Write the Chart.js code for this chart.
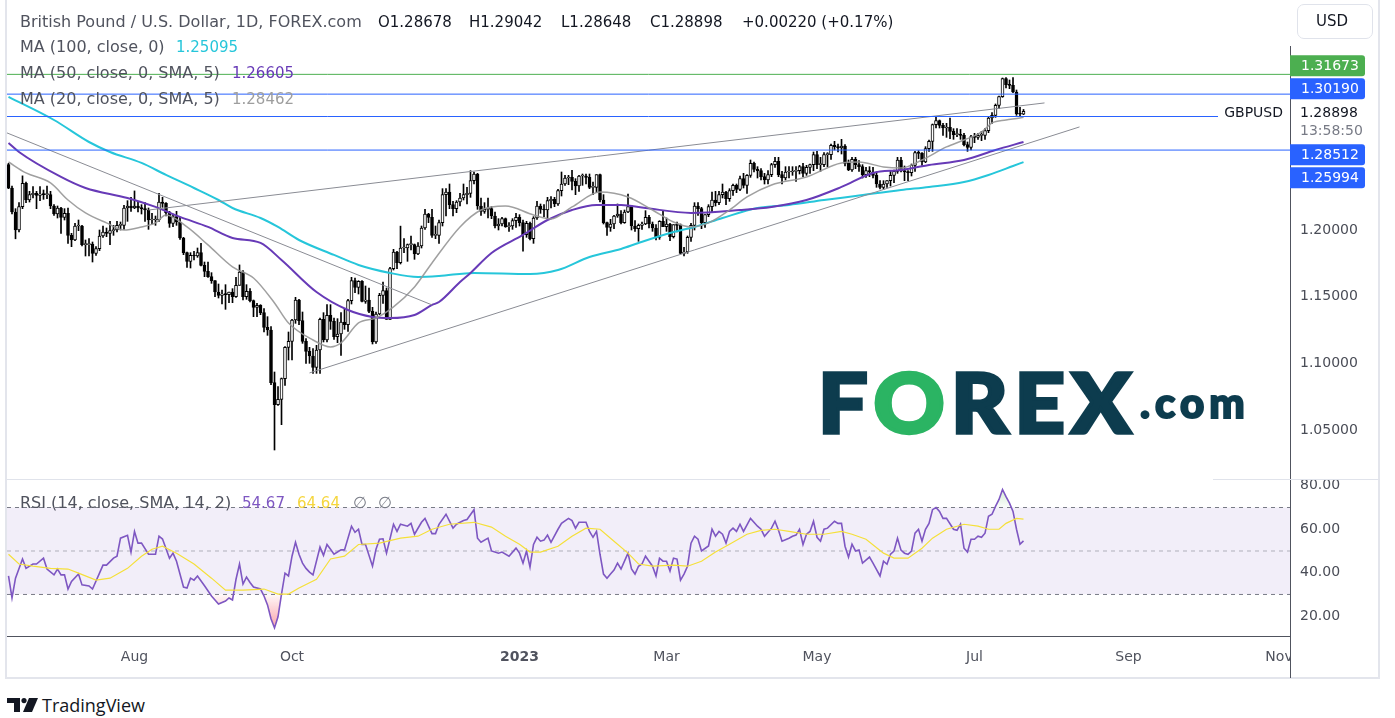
<!DOCTYPE html>
<html>
<head>
<meta charset="utf-8">
<script src="https://cdn.jsdelivr.net/npm/chart.js@4.4.0/dist/chart.umd.min.js"></script>
<style>
  body { margin:0; width:1395px; height:718px; background:#fff; position:relative; overflow:hidden; font-family:'DejaVu Sans', sans-serif; }
  .abs { position:absolute; white-space:nowrap; }
  .lg { font-size:16px; line-height:20px; color:#50535e; }
  .num { font-size:15px; }
  .val { color:#131722; }
  #frame { position:absolute; left:5px; top:-2px; width:1371px; height:677px; border:2px solid #e3e5ec; }
  #pricebox { position:absolute; left:0; top:0; width:1380px; height:479px; }
  #rsibox { position:absolute; left:0; top:480px; width:1380px; height:198px; }
  .logo { font-family:Lato, sans-serif; font-weight:900; color:#0d3c4e; -webkit-text-stroke:3.5px #0d3c4e; }
</style>
</head>
<body>
<div id="frame"></div>
<div class="abs" style="left:1290px;top:46px;width:1px;height:632px;background:#50535e"></div>
<div id="pricebox"><canvas id="price"></canvas></div>
<div id="rsibox"><canvas id="rsi"></canvas></div>
<div class="abs" style="left:7px;top:479px;width:1373px;height:1px;background:#e0e3eb"></div>
<div class="abs" style="left:830px;top:476px;width:383px;height:6px;background:#fff"></div>
<div class="abs" style="left:1291px;top:637px;width:87px;height:40px;background:#fff"></div>

<!-- legends -->
<div class="abs lg" style="left:20px;top:12px">British Pound / U.S. Dollar, 1D, FOREX.com</div>
<div class="abs lg num val" style="left:378px;top:12px">O1.28678</div>
<div class="abs lg num val" style="left:469px;top:12px">H1.29042</div>
<div class="abs lg num val" style="left:561px;top:12px">L1.28648</div>
<div class="abs lg num val" style="left:650px;top:12px">C1.28898</div>
<div class="abs lg num val" style="left:742px;top:12px">+0.00220 (+0.17%)</div>
<div class="abs lg" style="left:20px;top:37px">MA (100, close, 0)</div>
<div class="abs lg num" style="left:176px;top:37px;color:#26c6da">1.25095</div>
<div class="abs lg" style="left:20px;top:63px">MA (50, close, 0, SMA, 5)</div>
<div class="abs lg num" style="left:232px;top:63px;color:#673ab7">1.26605</div>
<div class="abs lg" style="left:20px;top:89px">MA (20, close, 0, SMA, 5)</div>
<div class="abs lg num" style="left:232px;top:89px;color:#9e9e9e">1.28462</div>
<div class="abs lg" style="left:20px;top:493px">RSI (14, close, SMA, 14, 2)</div>
<div class="abs lg num" style="left:242px;top:493px;color:#7e57c2">54.67</div>
<div class="abs lg num" style="left:297px;top:493px;color:#f5d63d">64.64</div>
<div class="abs lg" style="left:353px;top:493px;color:#787b86">∅</div>
<div class="abs lg" style="left:378px;top:493px;color:#787b86">∅</div>

<div class="abs" style="left:1297px;top:4px;width:74px;height:33px;border:1px solid #e0e3eb;border-radius:7px"></div>
<div class="abs" style="left:1316px;top:11px;font-size:15px;line-height:20px;color:#131722">USD</div>

<!-- logo -->
<div class="abs logo" style="left:818px;top:360px;font-size:82px;line-height:82px;letter-spacing:6px;transform:scaleX(1.07);transform-origin:0 0">F<span style="color:#2bb463;-webkit-text-stroke-color:#2bb463">O</span>REX</div>
<div class="abs logo" style="left:1140px;top:381px;font-size:42px;line-height:42px;letter-spacing:5px;-webkit-text-stroke-width:2px">.com</div>

<!-- footer -->
<svg class="abs" style="left:7px;top:698px" width="32" height="14" viewBox="0 0 32 14">
  <path d="M0 0 H13 V14 H7 V5 H0 Z" fill="#131722"/>
  <circle cx="17" cy="2.6" r="2.6" fill="#131722"/>
  <path d="M22 0 H31 L25 14 H16 Z" fill="#131722"/>
</svg>
<div class="abs" style="left:42px;top:694px;font-family:'Open Sans',sans-serif;font-size:18px;line-height:22px;color:#131722">TradingView</div>

<script>
// ---- data ----
const symbol = 'GBPUSD';
const countdown = '13:58:50';

const O = [
1.2490,1.2314,1.2135,1.2000,1.2175,1.2350,1.2225,1.2265,1.2275,1.2260,
1.2270,1.2265,1.2265,1.2180,1.2120,1.2165,1.2095,1.2125,1.1960,1.1925,
1.2030,1.2030,1.1890,1.1890,1.1895,1.1825,1.1860,1.1955,1.1985,1.1975,
1.1995,1.2000,1.2035,1.2035,1.2165,1.2180,1.2165,1.2180,1.2165,1.2160,
1.2150,1.2075,1.2075,1.2075,1.2210,1.2200,1.2130,1.2050,1.2100,1.2060,
1.1940,1.1830,1.1765,1.1810,1.1805,1.1830,1.1735,1.1690,1.1650,1.1620,
1.1535,1.1510,1.1520,1.1515,1.1535,1.1500,1.1585,1.1685,1.1500,1.1540,
1.1470,1.1420,1.1435,1.1380,1.1270,1.1250,1.0855,1.0690,1.0730,1.0885,
1.1120,1.1165,1.1325,1.1475,1.1320,1.1165,1.1090,1.1055,1.0970,1.1100,
1.1330,1.1175,1.1360,1.1315,1.1200,1.1220,1.1310,1.1290,1.1470,1.1620,
1.1570,1.1615,1.1465,1.1475,1.1390,1.1160,1.1370,1.1510,1.1545,1.1330,
1.1710,1.1835,1.1755,1.1865,1.1865,1.1890,1.1890,1.1820,1.1880,1.2015,
1.2120,1.2095,1.1960,1.1960,1.2055,1.2265,1.2285,1.2190,1.2160,1.2210,
1.2240,1.2265,1.2275,1.2370,1.2420,1.2180,1.2140,1.2155,1.2160,1.2105,
1.2030,1.2045,1.2085,1.2025,1.2030,1.2070,1.2095,1.2055,1.1965,1.2050,
1.1935,1.2090,1.2180,1.2155,1.2150,1.2220,1.2230,1.2195,1.2295,1.2345,
1.2390,1.2395,1.2365,1.2330,1.2405,1.2405,1.2395,1.2320,1.2320,1.2415,
1.2225,1.2055,1.2020,1.2045,1.2105,1.2120,1.2055,1.2135,1.2175,1.2030,
1.2010,1.2035,1.2045,1.2095,1.2045,1.2015,1.1945,1.2065,1.2025,1.2045,
1.1950,1.2040,1.2035,1.1825,1.1835,1.1945,1.2035,1.2180,1.2160,1.2055,
1.2115,1.2175,1.2225,1.2205,1.2265,1.2285,1.2235,1.2295,1.2335,1.2305,
1.2385,1.2335,1.2410,1.2500,1.2455,1.2445,1.2400,1.2375,1.2415,1.2490,
1.2515,1.2415,1.2390,1.2435,1.2435,1.2440,1.2445,1.2475,1.2425,1.2470,
1.2490,1.2565,1.2490,1.2490,1.2565,1.2565,1.2635,1.2625,1.2615,1.2630,
1.2500,1.2450,1.2530,1.2490,1.2475,1.2415,1.2445,1.2435,1.2410,1.2345,
1.2320,1.2345,1.2370,1.2410,1.2440,1.2525,1.2445,1.2435,1.2430,1.2485,
1.2580,1.2575,1.2510,1.2610,1.2665,1.2790,1.2820,1.2785,1.2765,1.2770,
1.2740,1.2715,1.2715,1.2710,1.2640,1.2620,1.2700,1.2695,1.2710,1.2710,
1.2745,1.2840,1.2860,1.2935,1.3000,1.3135,1.3090,1.3085,1.3035,1.2870,
1.28678];

const H = [
1.2500,1.2330,1.2160,1.2205,1.2406,1.2360,1.2290,1.2325,1.2290,1.2325,
1.2300,1.2330,1.2290,1.2190,1.2180,1.2170,1.2160,1.2165,1.1975,1.2050,
1.2075,1.2035,1.1925,1.1935,1.1910,1.1875,1.2000,1.2030,1.2015,1.2065,
1.2035,1.2065,1.2060,1.2185,1.2220,1.2245,1.2293,1.2215,1.2190,1.2205,
1.2165,1.2125,1.2105,1.2275,1.2245,1.2205,1.2140,1.2120,1.2140,1.2095,
1.1945,1.1835,1.1830,1.1840,1.1865,1.1900,1.1760,1.1760,1.1680,1.1620,
1.1595,1.1550,1.1590,1.1535,1.1560,1.1645,1.1738,1.1695,1.1590,1.1560,
1.1475,1.1450,1.1440,1.1410,1.1350,1.1275,1.0935,1.0825,1.0890,1.1125,
1.1235,1.1330,1.1495,1.1480,1.1385,1.1185,1.1120,1.1110,1.1135,1.1340,
1.1380,1.1440,1.1440,1.1340,1.1335,1.1380,1.1410,1.1480,1.1645,1.1640,
1.1620,1.1620,1.1580,1.1565,1.1420,1.1385,1.1525,1.1610,1.1565,1.1720,
1.1855,1.1840,1.2029,1.1935,1.1895,1.1955,1.1895,1.1905,1.2030,1.2155,
1.2125,1.2155,1.2030,1.2075,1.2310,1.2310,1.2345,1.2215,1.2220,1.2275,
1.2345,1.2320,1.2445,1.2435,1.2425,1.2240,1.2205,1.2240,1.2175,1.2135,
1.2085,1.2095,1.2090,1.2055,1.2085,1.2125,1.2115,1.2075,1.2065,1.2060,
1.2100,1.2215,1.2195,1.2190,1.2245,1.2250,1.2245,1.2305,1.2435,1.2410,
1.2410,1.2447,1.2385,1.2410,1.2420,1.2420,1.2420,1.2360,1.2415,1.2420,
1.2265,1.2060,1.2080,1.2110,1.2195,1.2145,1.2150,1.2270,1.2185,1.2070,
1.2045,1.2060,1.2145,1.2110,1.2060,1.2040,1.2070,1.2145,1.2090,1.2050,
1.2040,1.2060,1.2045,1.1870,1.1955,1.2050,1.2205,1.2205,1.2170,1.2115,
1.2190,1.2285,1.2290,1.2290,1.2345,1.2290,1.2310,1.2345,1.2345,1.2405,
1.2425,1.2415,1.2525,1.2510,1.2475,1.2460,1.2425,1.2445,1.2500,1.2545,
1.2545,1.2440,1.2475,1.2475,1.2475,1.2475,1.2485,1.2500,1.2485,1.2495,
1.2585,1.2590,1.2545,1.2580,1.2580,1.2645,1.2665,1.2645,1.2680,1.2640,
1.2525,1.2545,1.2545,1.2520,1.2490,1.2470,1.2475,1.2470,1.2435,1.2370,
1.2370,1.2370,1.2445,1.2450,1.2545,1.2545,1.2480,1.2445,1.2495,1.2590,
1.2595,1.2580,1.2625,1.2675,1.2795,1.2848,1.2825,1.2800,1.2800,1.2840,
1.2760,1.2760,1.2755,1.2725,1.2660,1.2710,1.2725,1.2725,1.2740,1.2760,
1.2850,1.2880,1.2945,1.3005,1.3140,1.3144,1.3125,1.3143,1.3050,1.2920,
1.29042];

const L = [
1.2310,1.2120,1.1934,1.1985,1.2160,1.2205,1.2210,1.2240,1.2160,1.2220,
1.2230,1.2235,1.2160,1.2110,1.2090,1.1975,1.2075,1.1900,1.1875,1.1920,
1.1995,1.1880,1.1805,1.1805,1.1760,1.1810,1.1845,1.1945,1.1950,1.1890,
1.1960,1.1985,1.2000,1.2005,1.2065,1.2140,1.2160,1.2135,1.2120,1.2065,
1.2005,1.2045,1.2035,1.2065,1.2170,1.2105,1.2020,1.2025,1.2035,1.1930,
1.1815,1.1720,1.1715,1.1775,1.1795,1.1730,1.1650,1.1645,1.1600,1.1500,
1.1490,1.1445,1.1405,1.1455,1.1455,1.1495,1.1585,1.1475,1.1480,1.1460,
1.1350,1.1350,1.1365,1.1235,1.1210,1.0840,1.0350,1.0685,1.0540,1.0835,
1.1025,1.1025,1.1300,1.1290,1.1150,1.1000,1.1000,1.0925,1.0925,1.0925,
1.1160,1.1160,1.1255,1.1180,1.1155,1.1060,1.1255,1.1240,1.1445,1.1530,
1.1520,1.1460,1.1450,1.1380,1.1145,1.1150,1.1365,1.1450,1.1330,1.1330,
1.1700,1.1710,1.1745,1.1830,1.1765,1.1850,1.1780,1.1815,1.1865,1.2005,
1.2055,1.1945,1.1935,1.1900,1.2030,1.2105,1.2160,1.2105,1.2130,1.2180,
1.2225,1.2195,1.2245,1.2345,1.2155,1.2110,1.2125,1.2090,1.2085,1.2015,
1.2000,1.2030,1.2020,1.1990,1.2005,1.2020,1.2030,1.1841,1.1945,1.1925,
1.1900,1.2080,1.2125,1.2100,1.2085,1.2165,1.2175,1.2185,1.2255,1.2335,
1.2340,1.2300,1.2265,1.2290,1.2335,1.2345,1.2310,1.2265,1.2280,1.2210,
1.2045,1.1960,1.1990,1.2010,1.2095,1.2045,1.2050,1.2130,1.2000,1.1990,
1.1915,1.2005,1.2040,1.2015,1.1990,1.1925,1.1930,1.2025,1.1990,1.1920,
1.1940,1.1985,1.1820,1.1805,1.1825,1.1915,1.2000,1.2110,1.2010,1.2020,
1.2100,1.2135,1.2180,1.2190,1.2240,1.2190,1.2215,1.2260,1.2280,1.2295,
1.2315,1.2275,1.2395,1.2435,1.2390,1.2375,1.2345,1.2345,1.2400,1.2470,
1.2400,1.2345,1.2375,1.2390,1.2410,1.2365,1.2420,1.2400,1.2410,1.2425,
1.2445,1.2460,1.2440,1.2475,1.2475,1.2530,1.2600,1.2585,1.2570,1.2480,
1.2445,1.2440,1.2460,1.2440,1.2390,1.2395,1.2400,1.2390,1.2320,1.2308,
1.2305,1.2320,1.2330,1.2355,1.2425,1.2435,1.2370,1.2370,1.2405,1.2440,
1.2535,1.2485,1.2505,1.2590,1.2590,1.2765,1.2765,1.2710,1.2695,1.2685,
1.2680,1.2700,1.2680,1.2630,1.2590,1.2600,1.2655,1.2680,1.2670,1.2680,
1.2730,1.2800,1.2845,1.2910,1.2995,1.3065,1.3060,1.3030,1.2860,1.2850,
1.28648];

const C = [
1.2314,1.2135,1.2000,1.2175,1.2350,1.2225,1.2265,1.2275,1.2260,1.2270,
1.2265,1.2265,1.2180,1.2120,1.2165,1.2095,1.2125,1.1960,1.1925,1.2030,
1.2030,1.1890,1.1890,1.1895,1.1825,1.1860,1.1955,1.1985,1.1975,1.1995,
1.2000,1.2035,1.2035,1.2165,1.2180,1.2165,1.2180,1.2165,1.2160,1.2150,
1.2075,1.2075,1.2075,1.2210,1.2200,1.2130,1.2050,1.2100,1.2060,1.1940,
1.1830,1.1765,1.1810,1.1805,1.1830,1.1735,1.1690,1.1650,1.1620,1.1535,
1.1510,1.1520,1.1515,1.1535,1.1500,1.1585,1.1685,1.1500,1.1540,1.1470,
1.1420,1.1435,1.1380,1.1270,1.1250,1.0855,1.0690,1.0730,1.0885,1.1120,
1.1165,1.1325,1.1475,1.1320,1.1165,1.1090,1.1055,1.0970,1.1100,1.1330,
1.1175,1.1360,1.1315,1.1200,1.1220,1.1310,1.1290,1.1470,1.1620,1.1570,
1.1615,1.1465,1.1475,1.1390,1.1160,1.1370,1.1510,1.1545,1.1330,1.1710,
1.1835,1.1755,1.1865,1.1865,1.1890,1.1890,1.1820,1.1880,1.2015,1.2120,
1.2095,1.1960,1.1960,1.2055,1.2265,1.2285,1.2190,1.2160,1.2210,1.2240,
1.2265,1.2275,1.2370,1.2420,1.2180,1.2140,1.2155,1.2160,1.2105,1.2030,
1.2045,1.2085,1.2025,1.2030,1.2070,1.2095,1.2055,1.1965,1.2050,1.1935,
1.2090,1.2180,1.2155,1.2150,1.2220,1.2230,1.2195,1.2295,1.2345,1.2390,
1.2395,1.2365,1.2330,1.2405,1.2405,1.2395,1.2320,1.2320,1.2415,1.2225,
1.2055,1.2020,1.2045,1.2105,1.2120,1.2055,1.2135,1.2175,1.2030,1.2010,
1.2035,1.2045,1.2095,1.2045,1.2015,1.1945,1.2065,1.2025,1.2045,1.1950,
1.2040,1.2035,1.1825,1.1835,1.1945,1.2035,1.2180,1.2160,1.2055,1.2115,
1.2175,1.2225,1.2205,1.2265,1.2285,1.2235,1.2295,1.2335,1.2305,1.2385,
1.2335,1.2410,1.2500,1.2455,1.2445,1.2400,1.2375,1.2415,1.2490,1.2515,
1.2415,1.2390,1.2435,1.2435,1.2440,1.2445,1.2475,1.2425,1.2470,1.2490,
1.2565,1.2490,1.2490,1.2565,1.2565,1.2635,1.2625,1.2615,1.2630,1.2500,
1.2450,1.2530,1.2490,1.2475,1.2415,1.2445,1.2435,1.2410,1.2345,1.2320,
1.2345,1.2370,1.2410,1.2440,1.2525,1.2445,1.2435,1.2430,1.2485,1.2580,
1.2575,1.2510,1.2610,1.2665,1.2790,1.2820,1.2785,1.2765,1.2770,1.2740,
1.2715,1.2715,1.2710,1.2640,1.2620,1.2700,1.2695,1.2710,1.2710,1.2745,
1.2840,1.2860,1.2935,1.3000,1.3135,1.3090,1.3085,1.3035,1.2870,1.2868,
1.28898];

// moving averages: [bar index, value]
const ma100 = [[0,1.2998],[13,1.2825],[23,1.2660],[29,1.2585],[38,1.2503],[45,1.2413],[53,1.2315],[60,1.2225],[64,1.2165],[72,1.2090],[77,1.2023],[83,1.1925],[93,1.1813],[100,1.1738],[109,1.1678],[117,1.1648],[123,1.1655],[133,1.1678],[149,1.1670],[157,1.1700],[166,1.1798],[175,1.1858],[180,1.1903],[190,1.1985],[196,1.2023],[204,1.2090],[214,1.2165],[223,1.2188],[233,1.2225],[242,1.2255],[255,1.2300],[263,1.2323],[273,1.2360],[280,1.2413],[287,1.2480],[290,1.25095]];
const ma50 = [[0,1.2653],[3,1.2585],[15,1.2398],[22,1.2315],[34,1.2240],[42,1.2173],[49,1.2098],[57,1.2023],[64,1.1940],[72,1.1903],[78,1.1775],[88,1.1535],[97,1.1400],[104,1.1348],[109,1.1340],[116,1.1363],[121,1.1438],[123,1.1460],[129,1.1610],[132,1.1678],[138,1.1828],[147,1.1963],[154,1.2075],[161,1.2150],[168,1.2188],[175,1.2188],[182,1.2165],[195,1.2128],[209,1.2150],[218,1.2173],[228,1.2225],[238,1.2323],[247,1.2428],[255,1.2450],[263,1.2488],[273,1.2525],[282,1.2600],[290,1.26605]];
const ma20 = [[0,1.2510],[5,1.2428],[12,1.2353],[17,1.2225],[22,1.2128],[28,1.2053],[33,1.2000],[38,1.2023],[42,1.2053],[45,1.2113],[51,1.2023],[57,1.1888],[64,1.1723],[70,1.1640],[76,1.1453],[80,1.1303],[87,1.1175],[92,1.1123],[95,1.1153],[100,1.1303],[105,1.1340],[110,1.1423],[116,1.1573],[121,1.1753],[129,1.2023],[135,1.2150],[142,1.2180],[150,1.2113],[155,1.2083],[161,1.2173],[169,1.2285],[177,1.2248],[184,1.2150],[190,1.2060],[195,1.2023],[200,1.2053],[206,1.2150],[211,1.2248],[218,1.2338],[228,1.2398],[238,1.2503],[243,1.2510],[250,1.2473],[255,1.2465],[261,1.2525],[268,1.2623],[273,1.2675],[278,1.2735],[281,1.2803],[285,1.2825],[289,1.2840],[290,1.28462]];

// drawn trend lines and price levels
const trendLines = [
  [[40,1.2150],[296,1.2953]],
  [[86,1.0928],[306,1.2773]],
  [[-0.43,1.2728],[121,1.1438]]
];
const levels = [
  {p:1.31673, color:'#4caf50'},
  {p:1.30190, color:'#2962ff'},
  {p:1.28512, color:'#2962ff'},
  {p:1.25994, color:'#2962ff'}
];

// RSI and its SMA: [bar index, value]
const rsi = [[0,38.5],[1,28.4],[2,37.5],[4,46.3],[5,42],[7,44],[8,44],[10,46.7],[11,41.7],[13,39],[14,41.7],[15,39],[16,39],[17,32.5],[18,36],[20,39.4],[21,34.4],[23,33.9],[24,32.5],[26,39.8],[27,43.5],[28,43.5],[30,46.7],[31,47.6],[32,55.9],[34,57.2],[35,49.5],[36,59],[37,53.6],[38,53.6],[40,48.5],[42,48.5],[43,56.8],[44,55.5],[46,46.7],[47,49],[48,45.3],[50,33.4],[51,33],[52,37.5],[53,36.6],[54,38.5],[56,34],[58,29.3],[60,25.6],[62,27],[63,28.4],[64,27.5],[65,37],[66,44],[67,34.8],[68,38],[69,35.5],[70,33.4],[72,32.5],[73,29.3],[74,25.2],[75,18.8],[76,14.6],[77,19.7],[78,30.2],[79,39.8],[80,38.5],[81,47.6],[82,54],[83,48.5],[84,44.4],[85,42],[86,40.3],[87,39],[89,51.8],[90,48],[91,53],[92,50.8],[93,48.5],[95,50.5],[96,50.5],[98,61.4],[99,58.6],[100,60],[101,53],[102,53],[104,43],[105,50.8],[106,55.4],[107,55.6],[108,49],[110,62.3],[111,59],[112,62.3],[114,61.4],[115,62.7],[116,57.7],[118,63.2],[119,65],[121,58],[122,58],[123,62.3],[125,66.9],[127,60.5],[128,62.3],[130,64],[131,64.5],[133,69],[134,55.9],[135,54],[137,55.9],[138,50],[140,49],[141,49.5],[143,47.6],[145,51.3],[146,49],[147,44.4],[148,50],[149,42.6],[150,53],[151,56.3],[152,54.5],[153,55],[154,57.3],[155,54],[157,60],[158,62.7],[160,65],[161,64],[162,60.5],[163,63.2],[165,63.2],[166,59],[167,56.3],[168,59],[169,48.5],[170,39.4],[171,37.5],[172,39.4],[173,41.2],[174,44.4],[175,41.7],[177,49],[178,41.7],[179,39.4],[180,43],[181,44],[182,47.6],[184,43],[185,38.5],[186,46.7],[187,45.3],[188,45.3],[189,40.8],[190,46.7],[191,46.3],[192,36.6],[193,39.4],[194,43],[195,53.6],[196,56.8],[197,55.4],[198,50],[200,52.3],[201,60],[202,56.8],[203,59],[204,57.7],[205,53.6],[206,59],[207,60.5],[208,59],[209,62.3],[210,59],[212,65],[214,61.4],[215,60],[216,56.8],[218,60.5],[219,63.7],[220,59.5],[221,54.5],[223,55.9],[224,56.8],[225,57.3],[226,60],[227,53],[228,57.7],[229,59],[230,63.7],[231,56.3],[232,54.5],[233,60],[234,60.5],[236,63.7],[237,62.7],[238,62.7],[239,52.2],[240,47.2],[241,53.1],[242,50],[243,50.5],[244,44.4],[246,47.2],[247,44.4],[249,38.5],[250,45.3],[251,43.9],[252,48.5],[253,50],[254,55.9],[255,50.4],[256,49],[257,48.5],[258,50],[259,58.2],[260,60],[261,54.5],[262,60],[263,62.7],[264,69],[265,70],[266,68.2],[267,65],[268,65],[270,60],[271,59.5],[272,62.3],[273,51.3],[274,49.5],[275,55.4],[276,55.4],[277,56.8],[278,56.3],[279,58.2],[280,66],[281,66.9],[282,70.5],[283,73.7],[284,78.3],[285,75],[286,72],[287,68.2],[288,60],[289,53.1],[290,54.67]];
const rsiSma = [[0,48.5],[3,44],[7,43],[12,42],[17,41.7],[20,39.8],[25,36.6],[29,37.5],[34,42],[38,47.6],[41,50.8],[44,52.2],[48,49],[53,44],[58,37.5],[62,32],[67,32],[73,32.5],[77,30.2],[80,30.2],[83,33],[88,37],[92,46.3],[96,47.6],[100,53],[106,53.6],[112,55.9],[117,56.8],[121,60],[126,62.3],[133,63.2],[138,61],[142,56.8],[146,53.1],[149,49.5],[152,49.5],[157,52.2],[161,56.8],[165,60.5],[169,60],[173,54.5],[177,49],[180,44],[184,43],[190,43.5],[194,43],[198,45.3],[202,49.5],[206,53.1],[211,57.7],[215,59.5],[219,60],[223,59],[228,57.7],[233,57.7],[238,59],[241,57.7],[245,55.4],[250,49],[253,46.7],[257,46.7],[261,51.3],[264,55.9],[268,60],[273,62.3],[277,61.4],[280,60],[283,60],[285,62.7],[288,65],[290,64.64]];

// axis ticks
const priceTicks = [1.05, 1.10, 1.15, 1.20];
const rsiTicks = [20, 40, 60, 80];
const monthIdx = [36, 81, 146, 188, 231, 276, 320, 363];
const monthLabels = ['Aug', 'Oct', '2023', 'Mar', 'May', 'Jul', 'Sep', 'Nov'];

// ---- charts ----
Chart.defaults.font.family = "'DejaVu Sans', sans-serif";
Chart.defaults.animation = false;
Chart.defaults.events = [];

const xMin = -0.43, xMax = 366.14;
const pts = arr => arr.map(p => ({x: p[0], y: p[1]}));

const lineDs = (data, color, width, order, extra) => Object.assign({
  type: 'line', data: pts(data), borderColor: color, borderWidth: width,
  pointRadius: 0, fill: false, order: order
}, extra || {});

const priceDatasets = [
  {
    type: 'bar', data: C.map((c, i) => ({x: i, y: [L[i], H[i]]})),
    backgroundColor: '#000', barThickness: 1, grouped: false, order: 6
  },
  {
    type: 'bar', data: C.map((c, i) => ({x: i, y: [O[i], c]})),
    backgroundColor: C.map((c, i) => c >= O[i] ? '#ffffff' : '#000000'),
    borderColor: '#000', borderWidth: 1, borderSkipped: false,
    barThickness: 3, minBarLength: 1, grouped: false, order: 5
  },
  lineDs(ma100, '#26c6da', 2, 4, {cubicInterpolationMode: 'monotone'}),
  lineDs(ma50, '#673ab7', 2, 3, {cubicInterpolationMode: 'monotone'}),
  lineDs(ma20, 'rgba(150,150,150,0.9)', 1.5, 2, {cubicInterpolationMode: 'monotone'})
];
trendLines.forEach(t => priceDatasets.push(lineDs(t, '#8a8c94', 1, 1)));
levels.forEach(l => priceDatasets.push(lineDs([[xMin, l.p], [xMax, l.p]], l.color, 1, 0)));

const levelLabels = {
  id: 'levelLabels',
  afterDraw(chart) {
    const ctx = chart.ctx, ys = chart.scales.y;
    const last = C[C.length - 1];
    const y0 = ys.getPixelForValue(last) + 2;
    const box = (c, l) => {
      ctx.fillStyle = l.color;
      ctx.beginPath();
      ctx.roundRect(1290, c - 10.5, 75, 21, [0, 3, 3, 0]);
      ctx.fill();
      ctx.fillStyle = '#fff';
      ctx.textAlign = 'left';
      ctx.fillText(l.p.toFixed(5), 1301, c + 0.5);
    };
    ctx.save();
    ctx.font = "14px 'DejaVu Sans', sans-serif";
    ctx.textBaseline = 'middle';
    ctx.fillStyle = '#fff';
    ctx.fillRect(1218, y0 - 9, 72, 18);
    ctx.fillStyle = '#131722';
    ctx.textAlign = 'right';
    ctx.fillText(symbol, 1283, y0);
    ctx.textAlign = 'left';
    ctx.fillText(last.toFixed(5), 1300, y0);
    ctx.fillStyle = '#787b86';
    ctx.fillText(countdown, 1300, y0 + 18);
    let edge = y0 - 12;
    levels.filter(l => l.p > last).sort((a, b) => a.p - b.p).forEach(l => {
      const c = Math.min(ys.getPixelForValue(l.p), edge - 12.5);
      box(c, l); edge = c - 10.5;
    });
    edge = y0 + 29;
    levels.filter(l => l.p < last).sort((a, b) => b.p - a.p).forEach(l => {
      const c = Math.max(ys.getPixelForValue(l.p), edge + 12.5);
      box(c, l); edge = c + 10.5;
    });
    ctx.restore();
  }
};

new Chart(document.getElementById('price'), {
  type: 'bar',
  data: {datasets: priceDatasets},
  options: {
    responsive: true, maintainAspectRatio: false, devicePixelRatio: 1,
    layout: {padding: {left: 7, right: 0, top: 0, bottom: 1}},
    plugins: {legend: {display: false}, tooltip: {enabled: false}},
    scales: {
      x: {type: 'linear', min: xMin, max: xMax, offset: false, display: false},
      y: {
        type: 'linear', position: 'right', min: 1.0140, max: 1.3725,
        grid: {display: false, drawTicks: false}, border: {display: false},
        ticks: {padding: 10, color: '#4a4d57', font: {size: 14}, callback: v => Number(v).toFixed(5)},
        afterBuildTicks: s => { s.ticks = priceTicks.map(v => ({value: v})); },
        afterFit: s => { s.width = 90; s.paddingTop = 0; s.paddingBottom = 0; }
      }
    }
  },
  plugins: [levelLabels]
});

const rsiDatasets = [
  lineDs(rsi, '#7e57c2', 1.6, 1, {fill: {target: {value: 30}, above: 'rgba(0,0,0,0)', below: 'rgba(242,54,69,0.28)'}}),
  lineDs(rsi, 'rgba(0,0,0,0)', 1, 7, {fill: {target: {value: 70}, above: 'rgba(76,175,80,0.14)', below: 'rgba(0,0,0,0)'}}),
  lineDs(rsiSma, '#f5e03a', 1.2, 0),
  lineDs([[xMin, 70], [xMax, 70]], '#787b86', 1, 8, {borderDash: [4, 4], fill: {target: {value: 30}, above: 'rgba(126,87,194,0.1)', below: 'rgba(0,0,0,0)'}}),
  lineDs([[xMin, 50], [xMax, 50]], 'rgba(120,123,134,0.55)', 1, 6, {borderDash: [4, 4]}),
  lineDs([[xMin, 30], [xMax, 30]], '#787b86', 1, 6, {borderDash: [4, 4]})
];

const rsiChart = new Chart(document.getElementById('rsi'), {
  type: 'line',
  data: {datasets: rsiDatasets},
  options: {
    responsive: true, maintainAspectRatio: false, devicePixelRatio: 1,
    layout: {padding: {left: 7, right: 0, top: 0, bottom: 0}},
    plugins: {legend: {display: false}, tooltip: {enabled: false}},
    scales: {
      x: {
        type: 'linear', min: xMin, max: xMax, offset: false,
        grid: {display: false, drawTicks: false},
        border: {display: true, color: '#50535e', width: 1},
        ticks: {
          autoSkip: false, maxRotation: 0, padding: 13, color: '#50535e',
          font: c => ({size: 14, weight: monthLabels[c.index] === '2023' ? 'bold' : 'normal'}),
          callback: (v, i) => monthLabels[i]
        },
        afterBuildTicks: s => { s.ticks = monthIdx.map(v => ({value: v})); },
        afterFit: s => { s.height = 42; s.paddingLeft = 0; s.paddingRight = 0; }
      },
      y: {
        type: 'linear', position: 'right', min: 10.89, max: 82.29,
        grid: {display: false, drawTicks: false}, border: {display: false},
        ticks: {padding: 10, color: '#4a4d57', font: {size: 14}, callback: v => Number(v).toFixed(2)},
        afterBuildTicks: s => { s.ticks = rsiTicks.map(v => ({value: v})); },
        afterFit: s => { s.width = 90; s.paddingTop = 0; s.paddingBottom = 0; }
      }
    }
  }
});

// gradient fills for the oversold / overbought zones
const ry = rsiChart.scales.y, rctx = rsiChart.ctx;
const gLow = rctx.createLinearGradient(0, ry.getPixelForValue(30), 0, ry.getPixelForValue(13));
gLow.addColorStop(0, 'rgba(242,54,69,0.03)');
gLow.addColorStop(1, 'rgba(242,54,69,0.5)');
const gHigh = rctx.createLinearGradient(0, ry.getPixelForValue(70), 0, ry.getPixelForValue(80));
gHigh.addColorStop(0, 'rgba(76,175,80,0.03)');
gHigh.addColorStop(1, 'rgba(76,175,80,0.3)');
rsiChart.data.datasets[0].fill.below = gLow;
rsiChart.data.datasets[1].fill.above = gHigh;
rsiChart.update();
</script>
</body>
</html>
